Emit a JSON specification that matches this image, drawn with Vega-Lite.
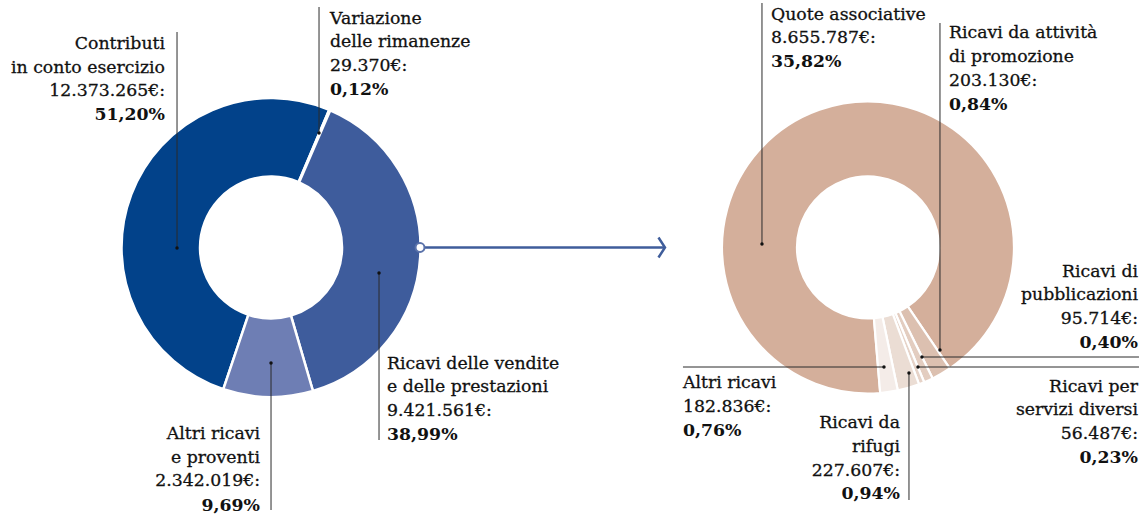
{
  "$schema": "https://vega.github.io/schema/vega-lite/v6.json",
  "width": 1139,
  "height": 495,
  "autosize": {"type": "none"},
  "padding": {"left": 0, "top": 0, "right": 8, "bottom": 23},
  "background": "white",
  "config": {
    "view": {"stroke": null},
    "text": {"font": "DejaVu Serif", "fontSize": 17.3, "color": "#111111", "stroke": "#111111", "strokeWidth": 0.3, "lineHeight": 23.7, "baseline": "alphabetic"},
    "rule": {"color": "#2b2b2b", "strokeWidth": 1},
    "point": {"filled": true, "color": "#111111", "size": 12, "opacity": 1}
  },
  "data": {
    "values": [
      {"gruppo": "Totale ricavi", "voce": "Contributi in conto esercizio", "righe": ["Contributi", "in conto esercizio", "12.373.265€:"], "importo": 12373265, "quota": "51,20%", "ordine": 1},
      {"gruppo": "Totale ricavi", "voce": "Variazione delle rimanenze", "righe": ["Variazione", "delle rimanenze", "29.370€:"], "importo": 29370, "quota": "0,12%", "ordine": 2},
      {"gruppo": "Totale ricavi", "voce": "Ricavi delle vendite e delle prestazioni", "righe": ["Ricavi delle vendite", "e delle prestazioni", "9.421.561€:"], "importo": 9421561, "quota": "38,99%", "ordine": 3},
      {"gruppo": "Totale ricavi", "voce": "Altri ricavi e proventi", "righe": ["Altri ricavi", "e proventi", "2.342.019€:"], "importo": 2342019, "quota": "9,69%", "ordine": 4},
      {"gruppo": "Ricavi delle vendite e delle prestazioni", "voce": "Quote associative", "righe": ["Quote associative", "8.655.787€:"], "importo": 8655787, "quota": "35,82%", "ordine": 1},
      {"gruppo": "Ricavi delle vendite e delle prestazioni", "voce": "Ricavi da attività di promozione", "righe": ["Ricavi da attività", "di promozione", "203.130€:"], "importo": 203130, "quota": "0,84%", "ordine": 2},
      {"gruppo": "Ricavi delle vendite e delle prestazioni", "voce": "Ricavi di pubblicazioni", "righe": ["Ricavi di", "pubblicazioni", "95.714€:"], "importo": 95714, "quota": "0,40%", "ordine": 3},
      {"gruppo": "Ricavi delle vendite e delle prestazioni", "voce": "Ricavi per servizi diversi", "righe": ["Ricavi per", "servizi diversi", "56.487€:"], "importo": 56487, "quota": "0,23%", "ordine": 4},
      {"gruppo": "Ricavi delle vendite e delle prestazioni", "voce": "Ricavi da rifugi", "righe": ["Ricavi da", "rifugi", "227.607€:"], "importo": 227607, "quota": "0,94%", "ordine": 5},
      {"gruppo": "Ricavi delle vendite e delle prestazioni", "voce": "Altri ricavi", "righe": ["Altri ricavi", "182.836€:"], "importo": 182836, "quota": "0,76%", "ordine": 6}
    ]
  },
  "encoding": {
    "x": {"field": "gruppo", "type": "nominal", "scale": {"type": "point", "domain": ["Totale ricavi", "Ricavi delle vendite e delle prestazioni"], "padding": 0.454}, "axis": null},
    "y": {"datum": "Ricavi", "type": "nominal", "scale": {"type": "point", "padding": 0.5}, "axis": null}
  },
  "layer": [
    {
      "transform": [{"filter": "datum.gruppo === 'Totale ricavi'"}],
      "mark": {"type": "arc", "innerRadius": 71, "outerRadius": 149.5, "stroke": "white", "strokeWidth": 2.5, "strokeJoin": "bevel"},
      "encoding": {
        "theta": {"field": "importo", "type": "quantitative", "stack": true, "scale": {"range": [3.4662, 9.7494]}},
        "order": {"field": "ordine", "type": "quantitative"},
        "color": {
          "field": "voce", "type": "nominal", "legend": null,
          "scale": {
            "domain": ["Contributi in conto esercizio", "Variazione delle rimanenze", "Ricavi delle vendite e delle prestazioni", "Altri ricavi e proventi", "Quote associative", "Ricavi da attività di promozione", "Ricavi di pubblicazioni", "Ricavi per servizi diversi", "Ricavi da rifugi", "Altri ricavi"],
            "range": ["#02428a", "#4a67a6", "#3e5c9c", "#6e7eb4", "#d4af9b", "#dcc0b0", "#e3cdc0", "#e6d3c8", "#ebddd4", "#f4ece8"]
          }
        }
      }
    },
    {
      "transform": [{"filter": "datum.gruppo !== 'Totale ricavi'"}],
      "mark": {"type": "arc", "innerRadius": 71, "outerRadius": 146, "stroke": "white", "strokeWidth": 2.2, "strokeJoin": "bevel"},
      "encoding": {
        "theta": {"field": "importo", "type": "quantitative", "stack": true, "scale": {"range": [3.0578, 9.341]}},
        "order": {"field": "ordine", "type": "quantitative"},
        "color": {"field": "voce", "type": "nominal", "legend": null}
      }
    },
    {
      "transform": [{"filter": "datum.voce === 'Ricavi delle vendite e delle prestazioni'"}],
      "layer": [
        {"mark": {"type": "rule", "color": "#3f5d9b", "strokeWidth": 2.5, "xOffset": 150, "x2Offset": -204},
         "encoding": {"x2": {"datum": "Ricavi delle vendite e delle prestazioni"}}},
        {"mark": {"type": "point", "shape": "M-0.65,-1L0,0L-0.65,1", "filled": false, "fill": null, "stroke": "#3f5d9b", "strokeWidth": 2.5, "size": 400, "xOffset": -203},
         "encoding": {"x": {"datum": "Ricavi delle vendite e delle prestazioni", "type": "nominal"}}},
        {"mark": {"type": "point", "shape": "circle", "filled": true, "fill": "white", "stroke": "#5a72aa", "strokeWidth": 2, "size": 80, "xOffset": 149}}
      ]
    },
    {
      "transform": [{"filter": "datum.voce === 'Contributi in conto esercizio'"}],
      "layer": [
        {"mark": {"type": "rule", "xOffset": -94, "yOffset": 0.5, "y2Offset": -215.5}, "encoding": {"y2": {"datum": "Ricavi"}}},
        {"mark": {"type": "point", "xOffset": -94, "yOffset": 0.5}},
        {"mark": {"type": "text", "align": "right", "dx": -106, "dy": -198.5}, "encoding": {"text": {"field": "righe"}}},
        {"mark": {"type": "text", "align": "right", "dx": -106, "dy": -127.5, "fontWeight": "bold", "strokeWidth": 0}, "encoding": {"text": {"field": "quota"}}}
      ]
    },
    {
      "transform": [{"filter": "datum.voce === 'Variazione delle rimanenze'"}],
      "layer": [
        {"mark": {"type": "rule", "xOffset": 48, "yOffset": -114.5, "y2Offset": -240.5}, "encoding": {"y2": {"datum": "Ricavi"}}},
        {"mark": {"type": "point", "xOffset": 48, "yOffset": -114.5}},
        {"mark": {"type": "text", "align": "left", "dx": 59, "dy": -224}, "encoding": {"text": {"field": "righe"}}},
        {"mark": {"type": "text", "align": "left", "dx": 59, "dy": -152.5, "fontWeight": "bold", "strokeWidth": 0}, "encoding": {"text": {"field": "quota"}}}
      ]
    },
    {
      "transform": [{"filter": "datum.voce === 'Ricavi delle vendite e delle prestazioni'"}],
      "layer": [
        {"mark": {"type": "rule", "xOffset": 108, "yOffset": 25.5, "y2Offset": 192.5}, "encoding": {"y2": {"datum": "Ricavi"}}},
        {"mark": {"type": "point", "xOffset": 108, "yOffset": 25.5}},
        {"mark": {"type": "text", "align": "left", "dx": 116, "dy": 121}, "encoding": {"text": {"field": "righe"}}},
        {"mark": {"type": "text", "align": "left", "dx": 116, "dy": 192.5, "fontWeight": "bold", "strokeWidth": 0}, "encoding": {"text": {"field": "quota"}}}
      ]
    },
    {
      "transform": [{"filter": "datum.voce === 'Altri ricavi e proventi'"}],
      "layer": [
        {"mark": {"type": "rule", "xOffset": 0, "yOffset": 115.5, "y2Offset": 262.5}, "encoding": {"y2": {"datum": "Ricavi"}}},
        {"mark": {"type": "point", "xOffset": 0, "yOffset": 115.5}},
        {"mark": {"type": "text", "align": "right", "dx": -11, "dy": 191.5}, "encoding": {"text": {"field": "righe"}}},
        {"mark": {"type": "text", "align": "right", "dx": -11, "dy": 263.5, "fontWeight": "bold", "strokeWidth": 0}, "encoding": {"text": {"field": "quota"}}}
      ]
    },
    {
      "transform": [{"filter": "datum.voce === 'Quote associative'"}],
      "layer": [
        {"mark": {"type": "rule", "xOffset": -106, "yOffset": -3.5, "y2Offset": -244.5}, "encoding": {"y2": {"datum": "Ricavi"}}},
        {"mark": {"type": "point", "xOffset": -106, "yOffset": -3.5}},
        {"mark": {"type": "text", "align": "left", "dx": -97, "dy": -228}, "encoding": {"text": {"field": "righe"}}},
        {"mark": {"type": "text", "align": "left", "dx": -97, "dy": -180.5, "fontWeight": "bold", "strokeWidth": 0}, "encoding": {"text": {"field": "quota"}}}
      ]
    },
    {
      "transform": [{"filter": "datum.voce === 'Ricavi da attività di promozione'"}],
      "layer": [
        {"mark": {"type": "rule", "xOffset": 72, "yOffset": 102.5, "y2Offset": -224.5}, "encoding": {"y2": {"datum": "Ricavi"}}},
        {"mark": {"type": "point", "xOffset": 72, "yOffset": 102.5}},
        {"mark": {"type": "text", "align": "left", "dx": 81, "dy": -209.2}, "encoding": {"text": {"field": "righe"}}},
        {"mark": {"type": "text", "align": "left", "dx": 81, "dy": -137.5, "fontWeight": "bold", "strokeWidth": 0}, "encoding": {"text": {"field": "quota"}}}
      ]
    },
    {
      "transform": [{"filter": "datum.voce === 'Ricavi di pubblicazioni'"}],
      "layer": [
        {"mark": {"type": "rule", "xOffset": 54, "x2Offset": 271, "yOffset": 109.5}, "encoding": {"x2": {"field": "gruppo"}}},
        {"mark": {"type": "point", "xOffset": 54, "yOffset": 109.5}},
        {"mark": {"type": "text", "align": "right", "dx": 270, "dy": 29.2}, "encoding": {"text": {"field": "righe"}}},
        {"mark": {"type": "text", "align": "right", "dx": 270, "dy": 100.8, "fontWeight": "bold", "strokeWidth": 0}, "encoding": {"text": {"field": "quota"}}}
      ]
    },
    {
      "transform": [{"filter": "datum.voce === 'Ricavi per servizi diversi'"}],
      "layer": [
        {"mark": {"type": "rule", "xOffset": 50, "x2Offset": 271, "yOffset": 119.5}, "encoding": {"x2": {"field": "gruppo"}}},
        {"mark": {"type": "point", "xOffset": 50, "yOffset": 119.5}},
        {"mark": {"type": "text", "align": "right", "dx": 270, "dy": 144}, "encoding": {"text": {"field": "righe"}}},
        {"mark": {"type": "text", "align": "right", "dx": 270, "dy": 215, "fontWeight": "bold", "strokeWidth": 0}, "encoding": {"text": {"field": "quota"}}}
      ]
    },
    {
      "transform": [{"filter": "datum.voce === 'Ricavi da rifugi'"}],
      "layer": [
        {"mark": {"type": "rule", "xOffset": 41, "yOffset": 125.5, "y2Offset": 252.5}, "encoding": {"y2": {"datum": "Ricavi"}}},
        {"mark": {"type": "point", "xOffset": 41, "yOffset": 125.5}},
        {"mark": {"type": "text", "align": "right", "dx": 32, "dy": 180.8}, "encoding": {"text": {"field": "righe"}}},
        {"mark": {"type": "text", "align": "right", "dx": 32, "dy": 251.9, "fontWeight": "bold", "strokeWidth": 0}, "encoding": {"text": {"field": "quota"}}}
      ]
    },
    {
      "transform": [{"filter": "datum.voce === 'Altri ricavi'"}],
      "layer": [
        {"mark": {"type": "rule", "xOffset": -185, "x2Offset": 16, "yOffset": 119.5}, "encoding": {"x2": {"field": "gruppo"}}},
        {"mark": {"type": "point", "xOffset": 16, "yOffset": 119.5}},
        {"mark": {"type": "text", "align": "left", "dx": -185, "dy": 140.8}, "encoding": {"text": {"field": "righe"}}},
        {"mark": {"type": "text", "align": "left", "dx": -185, "dy": 188.5, "fontWeight": "bold", "strokeWidth": 0}, "encoding": {"text": {"field": "quota"}}}
      ]
    }
  ],
  "resolve": {"scale": {"theta": "independent"}}
}
